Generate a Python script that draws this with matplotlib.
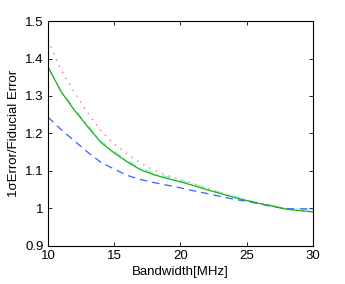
import matplotlib
matplotlib.use("Agg")
import matplotlib.pyplot as plt

bandwidth = [10, 11, 12, 13, 14, 15, 16, 17, 18, 19, 20, 21, 22, 23, 24, 25, 26, 27, 28, 29, 30]
err_red = [1.449, 1.368, 1.31, 1.255, 1.207, 1.172, 1.145, 1.121, 1.102, 1.088, 1.077, 1.066, 1.054,
           1.042, 1.031, 1.021, 1.013, 1.006, 0.998, 0.994, 0.991]
err_green = [1.378, 1.311, 1.262, 1.218, 1.176, 1.148, 1.124, 1.103, 1.090, 1.080, 1.071, 1.061, 1.050,
             1.040, 1.030, 1.021, 1.013, 1.006, 0.998, 0.994, 0.991]
err_cyan = [1.378, 1.313, 1.265, 1.222, 1.180, 1.152, 1.128, 1.107, 1.094, 1.084, 1.075, 1.065, 1.054,
            1.043, 1.033, 1.023, 1.014, 1.007, 1.000, 0.998, 0.997]
err_blue = [1.244, 1.21, 1.18, 1.15, 1.123, 1.105, 1.088, 1.077, 1.069, 1.062, 1.055, 1.047, 1.040,
            1.032, 1.025, 1.019, 1.012, 1.005, 0.999, 0.999, 0.999]

plt.rcParams["font.family"] = ["Liberation Sans", "DejaVu Sans"]
plt.rcParams["font.size"] = 9.5

fig = plt.figure(figsize=(3.45, 2.84), dpi=100)
ax = fig.add_axes([0.139, 0.134, 0.768, 0.792])

ax.plot(bandwidth, err_red, color="#ff7070", linestyle=(0, (1, 4)), linewidth=1.0)
ax.plot(bandwidth, err_cyan, color="#70ffc0", linestyle=(0, (6, 3, 1, 3)), linewidth=1.0)
ax.plot(bandwidth, err_blue, color="#3366ff", linestyle=(0, (6, 4)), linewidth=0.9)
ax.plot(bandwidth, err_green, color="#22aa22", linestyle="-", linewidth=0.9)

ax.set_xlim(10, 30)
ax.set_ylim(0.9, 1.5)
ax.set_xticks([10, 15, 20, 25, 30])
ax.set_yticks([0.9, 1.0, 1.1, 1.2, 1.3, 1.4, 1.5])
ax.set_yticklabels(["0.9", "1", "1.1", "1.2", "1.3", "1.4", "1.5"])
ax.tick_params(direction="in", top=True, right=True, length=3, width=0.6, pad=3)
for s in ax.spines.values():
    s.set_linewidth(0.8)

ax.set_xlabel("Bandwidth[MHz]", labelpad=3)
ax.set_ylabel("1σError/Fiducial Error", labelpad=4)

fig.savefig("out.png", dpi=100)
